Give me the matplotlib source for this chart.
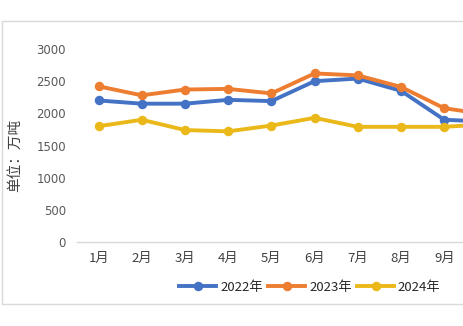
import matplotlib
matplotlib.use("Agg")
import matplotlib.pyplot as plt
from matplotlib.patches import Rectangle
from matplotlib.lines import Line2D

plt.rcParams['font.family'] = ['Noto Sans CJK SC', 'DejaVu Sans']

# visible month labels (the chart is cropped after September)
months = ["1月", "2月", "3月", "4月", "5月", "6月", "7月", "8月", "9月"]
y2022 = [2200, 2150, 2150, 2210, 2190, 2500, 2540, 2350, 1900, 1870]
y2023 = [2420, 2280, 2370, 2380, 2310, 2620, 2590, 2410, 2080, 1980]
y2024 = [1800, 1900, 1740, 1720, 1810, 1930, 1790, 1790, 1790, 1830]
series_names = ["2022年", "2023年", "2024年"]
colors = ["#4472C4", "#ED7D31", "#EBB81A"]
yticks = [0, 500, 1000, 1500, 2000, 2500, 3000]

W, H = 463, 326
fig = plt.figure(figsize=(W / 100, H / 100), dpi=100)

# chart border (Excel chart area), cropped at right
fig.patches.append(Rectangle((2 / W, 1 - 304 / H), 1.2, (304 - 21) / H,
                             transform=fig.transFigure, fill=False,
                             edgecolor="#D9D9D9", linewidth=1.0))

left = 77
spacing = 43.2
npts = len(y2022)
y0px, y3000px = 242, 49
ax = fig.add_axes([left / W, 1 - y0px / H, npts * spacing / W, (y0px - y3000px) / H])
x = list(range(npts))
for vals, c, name in zip([y2022, y2023, y2024], colors, series_names):
    ax.plot(x, vals, color=c, linewidth=2.8, marker="o", markersize=5.8,
            solid_capstyle="round", label=name, clip_on=False)

ax.set_xlim(-0.5, npts - 0.5)
ax.set_ylim(0, 3000)
ax.set_yticks(yticks)
ax.set_yticklabels([str(v) for v in yticks], fontsize=8.5, color="#595959",
                   family=['DejaVu Sans'])
ax.set_xticks(list(range(len(months))))
ax.set_xticklabels(months, fontsize=9.5, color="#404040")
ax.tick_params(axis="both", length=0)
ax.tick_params(axis="y", pad=8)
ax.tick_params(axis="x", pad=7)
for s in ["top", "right", "left"]:
    ax.spines[s].set_visible(False)
ax.spines["bottom"].set_color("#D9D9D9")
ax.spines["bottom"].set_linewidth(1.0)
ax.patch.set_visible(False)

fig.text(15 / W, 1 - 155 / H, "单位：万吨", rotation=90, fontsize=10.5,
         ha="center", va="center", color="#404040")

handles = [Line2D([0], [0], color=c, linewidth=2.8, marker="o", markersize=5.8)
           for c in colors]
fig.legend(handles, series_names, loc="center", bbox_to_anchor=(310 / W, 1 - 287 / H),
           ncol=3, frameon=False, fontsize=9.5, handlelength=2.8, handletextpad=0.3,
           columnspacing=0.4, labelcolor="#262626")

fig.savefig("out.png", dpi=100)
